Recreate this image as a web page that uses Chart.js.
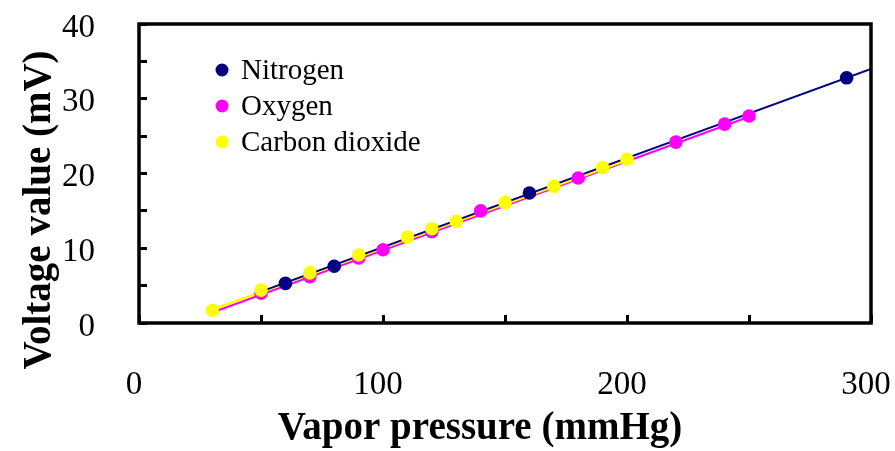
<!DOCTYPE html>
<html lang="en">
<head>
<meta charset="UTF-8">
<title>Voltage vs vapor pressure</title>
<script src="https://cdn.jsdelivr.net/npm/chart.js"></script>
<style>
  html, body { margin: 0; padding: 0; background: #fff; }
  .chart-box { width: 895px; height: 451px; }
</style>
</head>
<body>
<div class="chart-box"><canvas id="vaporChart"></canvas></div>

<script>
// measured points (vapor pressure in mmHg, voltage in mV)
const nitrogenX = [60, 80, 160, 290];
const nitrogenY = [5.3, 7.6, 17.4, 32.8];

const oxygenX = [50, 70, 90, 100, 120, 140, 180, 220, 240, 250];
const oxygenY = [4.0, 6.2, 8.7, 9.8, 12.2, 15.0, 19.4, 24.2, 26.6, 27.7];

const co2X = [30, 50, 70, 90, 110, 120, 130, 150, 170, 190, 200];
const co2Y = [1.7, 4.4, 6.7, 9.1, 11.5, 12.6, 13.6, 16.1, 18.3, 20.8, 21.9];

// end points of the fitted lines
const nitrogenFitX = [50, 300];
const nitrogenFitY = [4.2, 34.0];
const oxygenFitX = [30, 250];
const oxygenFitY = [1.4, 27.6];
const co2FitX = [30, 200];
const co2FitY = [1.8, 21.8];

const xTickLabels = [0, 100, 200, 300];
const yTickLabels = [0, 10, 20, 30, 40];

const FONT = '"Liberation Serif", "Times New Roman", serif';

function toPoints(xs, ys) {
    return xs.map((x, i) => ({ x: x, y: ys[i] }));
}

function pointSet(label, xs, ys, color, order) {
    return {
        label: label,
        data: toPoints(xs, ys),
        showLine: false,
        pointRadius: 6.8,
        pointHoverRadius: 6.8,
        pointBackgroundColor: color,
        pointBorderWidth: 0,
        borderColor: color,
        backgroundColor: color,
        order: order,
        inLegend: true
    };
}

function fitSet(label, xs, ys, color, width, order) {
    return {
        label: label,
        data: toPoints(xs, ys),
        showLine: true,
        pointRadius: 0,
        pointHoverRadius: 0,
        borderColor: color,
        borderWidth: width,
        fill: false,
        order: order
    };
}

// keep the plot box where the reference has it
function pinScale(size) {
    return scale => {
        if (scale.isHorizontal()) scale.height = size;
        else scale.width = size;
        scale.paddingTop = 0;
        scale.paddingBottom = 0;
        scale.paddingLeft = 0;
        scale.paddingRight = 0;
    };
}

// frame, axis titles and the legend inside the plot area
const decorations = {
    id: 'decorations',
    afterDraw(chart) {
        const ctx = chart.ctx;
        const a = chart.chartArea;
        ctx.save();

        ctx.strokeStyle = '#000';
        ctx.lineWidth = 3.5;
        ctx.strokeRect(a.left, a.top, a.right - a.left, a.bottom - a.top);

        ctx.fillStyle = '#000';
        ctx.font = 'bold 39px ' + FONT;
        ctx.textAlign = 'center';
        ctx.textBaseline = 'alphabetic';
        ctx.fillText('Vapor pressure (mmHg)', 480, 439);

        ctx.save();
        ctx.translate(50, 210);
        ctx.rotate(-Math.PI / 2);
        ctx.fillText('Voltage value (mV)', 0, 0);
        ctx.restore();

        // legend
        const items = chart.data.datasets.filter(ds => ds.inLegend);
        ctx.font = '29px ' + FONT;
        ctx.textAlign = 'left';
        ctx.textBaseline = 'middle';
        items.forEach((ds, i) => {
            const y = 70 + i * 36;
            ctx.beginPath();
            ctx.arc(222, y, 6.5, 0, Math.PI * 2);
            ctx.fillStyle = ds.pointBackgroundColor;
            ctx.fill();
            ctx.fillStyle = '#000';
            ctx.fillText(ds.label, 241, y + 1);
        });

        ctx.restore();
    }
};

const ctx = document.getElementById('vaporChart').getContext('2d');
const vaporChart = new Chart(ctx, {
    type: 'scatter',
    data: {
        datasets: [
            pointSet('Nitrogen', nitrogenX, nitrogenY, '#000080', 1),
            pointSet('Oxygen', oxygenX, oxygenY, '#FF00FF', 2),
            pointSet('Carbon dioxide', co2X, co2Y, '#FFFF00', 0),
            fitSet('Nitrogen fit', nitrogenFitX, nitrogenFitY, '#000080', 2, 3),
            fitSet('Oxygen fit', oxygenFitX, oxygenFitY, '#FF00FF', 2, 5),
            fitSet('Carbon dioxide fit', co2FitX, co2FitY, '#FFFF00', 2.5, 4)
        ]
    },
    options: {
        responsive: true,
        maintainAspectRatio: false,
        animation: false,
        layout: { padding: { left: 0, top: 24, right: 24, bottom: 0 } },
        plugins: {
            legend: { display: false },
            tooltip: { enabled: false }
        },
        scales: {
            x: {
                type: 'linear',
                min: 0,
                max: 300,
                afterFit: pinScale(128),
                border: { display: false },
                grid: {
                    drawOnChartArea: false,
                    drawTicks: true,
                    tickLength: -8,
                    color: '#000',
                    lineWidth: 3
                },
                ticks: {
                    stepSize: 50,
                    autoSkip: false,
                    maxRotation: 0,
                    padding: 51,
                    labelOffset: -5,
                    color: '#000',
                    font: { family: FONT, size: 33 },
                    callback: v => xTickLabels.includes(v) ? String(v) : ''
                }
            },
            y: {
                type: 'linear',
                min: 0,
                max: 40,
                afterFit: pinScale(139),
                border: { display: false },
                grid: {
                    drawOnChartArea: false,
                    drawTicks: true,
                    tickLength: -8,
                    color: '#000',
                    lineWidth: 3
                },
                ticks: {
                    stepSize: 5,
                    autoSkip: false,
                    padding: 52,
                    labelOffset: 4,
                    color: '#000',
                    font: { family: FONT, size: 33 },
                    callback: v => yTickLabels.includes(v) ? String(v) : ''
                }
            }
        }
    },
    plugins: [decorations]
});
</script>
</body>
</html>
